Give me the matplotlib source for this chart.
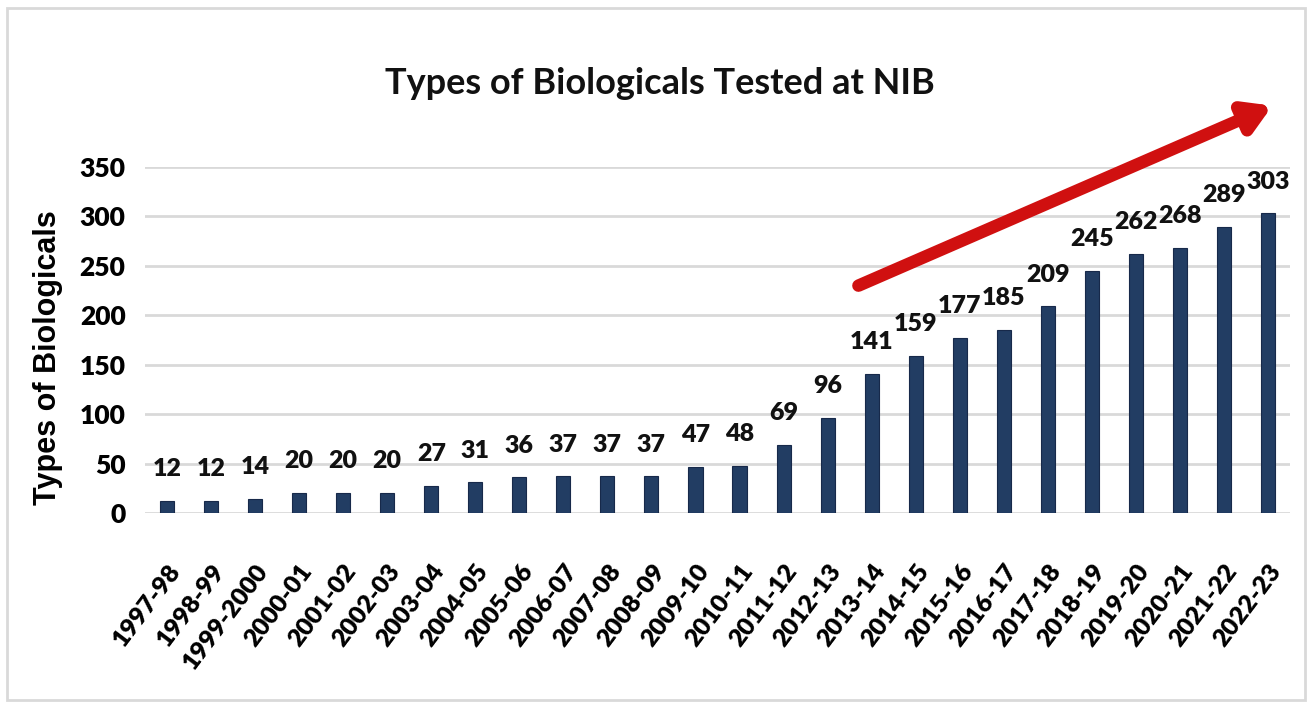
import matplotlib.pyplot as plt
from matplotlib.patches import Rectangle

years = ["1997-98", "1998-99", "1999-2000", "2000-01", "2001-02", "2002-03",
         "2003-04", "2004-05", "2005-06", "2006-07", "2007-08", "2008-09",
         "2009-10", "2010-11", "2011-12", "2012-13", "2013-14", "2014-15",
         "2015-16", "2016-17", "2017-18", "2018-19", "2019-20", "2020-21",
         "2021-22", "2022-23"]
counts = [12, 12, 14, 20, 20, 20, 27, 31, 36, 37, 37, 37, 47, 48, 69, 96,
          141, 159, 177, 185, 209, 245, 262, 268, 289, 303]
yticks = [0, 50, 100, 150, 200, 250, 300, 350]

font = ['Lato', 'DejaVu Sans']

fig = plt.figure(figsize=(13.12, 7.07), dpi=100)
ax = fig.add_axes([145 / 1312, 1 - 513 / 707, 1145 / 1312, 346 / 707])

# frame round the whole picture
fig.patches.append(Rectangle((7 / 1312, 1 - 700 / 707), 1298 / 1312, 692 / 707,
                             transform=fig.transFigure, fill=False,
                             edgecolor='#d9d9d9', lw=2))

x = list(range(len(years)))
ax.bar(x, counts, width=0.32, color='#223d63', edgecolor='#17294a', lw=0.8, zorder=3)

for xi, v in zip(x, counts):
    ax.annotate(str(v), (xi, v), xytext=(0, 15), textcoords='offset points',
                ha='center', va='bottom', fontsize=18, fontweight='heavy',
                family=font, color='#111111')

ax.set_xlim(-0.5, len(years) - 0.5)
ax.set_ylim(0, 350)
ax.set_yticks(yticks)
ax.yaxis.grid(True, color='#d9d9d9', lw=2, zorder=0)
ax.set_axisbelow(True)
for s in ax.spines.values():
    s.set_visible(False)
ax.tick_params(length=0)
ax.set_xticks(x)
ax.set_xticklabels(years, rotation=53, ha='right', rotation_mode='anchor',
                   fontsize=18, fontweight='heavy', family=font)
for lab in ax.get_yticklabels():
    lab.set_fontsize(19)
    lab.set_fontweight('heavy')
    lab.set_family(font)
ax.tick_params(axis='y', pad=14)
ax.tick_params(axis='x', pad=34)

ax.set_ylabel("Types of Biologicals", fontsize=22, fontweight='bold',
              family='Liberation Sans', labelpad=6)
ax.yaxis.set_label_coords(-0.072, 0.45)

fig.text(0.503, 1 - 83 / 707, "Types of Biologicals Tested at NIB",
         ha='center', va='center', fontsize=26, fontweight='bold',
         family=font, color='#111111')

# red trend arrow
ax.annotate("", xy=(25.1, 412), xytext=(15.7, 230),
            arrowprops=dict(arrowstyle='-|>,head_length=1.5,head_width=0.9',
                            color='#d01010', lw=9, shrinkA=0, shrinkB=0),
            annotation_clip=False)

fig.savefig("out.png", dpi=100)
